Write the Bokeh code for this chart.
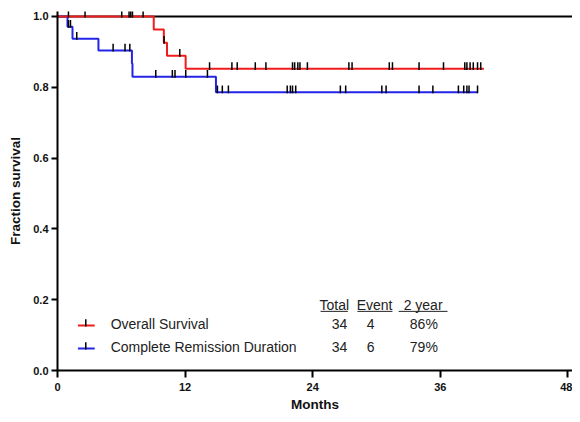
import numpy as np
from bokeh.plotting import figure
from bokeh.models import Range1d, FixedTicker, PrintfTickFormatter, Label
from bokeh.embed import file_html
from bokeh.resources import INLINE

# ---- data ----
os_times = [0, 9.05, 10.0, 10.3, 12.05, 40.1]
os_surv = [1.0, 0.963, 0.926, 0.889, 0.852, 0.852]
os_censor = [1.03, 2.59, 6.04, 6.73, 6.89, 7.05, 8.05, 10.02, 11.5, 14.3, 16.4, 16.9,
             18.6, 19.6, 22.1, 22.3, 22.6, 22.8, 23.5, 27.4, 27.7, 31.2, 31.5, 34.0,
             36.3, 38.3, 38.5, 38.8, 39.1, 39.5, 39.8]

cr_times = [0, 0.94, 1.41, 3.85, 7.0, 7.05, 14.9, 39.5]
cr_surv = [1.0, 0.971, 0.937, 0.904, 0.867, 0.830, 0.786, 0.786]
cr_censor = [1.03, 1.22, 1.81, 5.23, 6.35, 6.8, 9.24, 10.8, 11.05, 12.06, 14.1, 15.04,
             15.5, 16.07, 21.6, 21.9, 22.1, 22.4, 26.6, 27.1, 30.5, 30.9, 34.0, 35.3,
             37.7, 38.2, 38.5, 38.7, 39.5]

ref_x = [0, 49.2]
ref_y = [1.0, 1.0]

x_ticks = [0, 12, 24, 36, 48]
y_ticks = [0.0, 0.2, 0.4, 0.6, 0.8, 1.0]

series_names = ["Overall Survival", "Complete Remission Duration"]
totals = ["34", "34"]
events = ["4", "6"]
two_year = ["86%", "79%"]
headers = ["Total", "Event", "2 year"]

RED = "#f01c1c"
BLUE = "#2424e8"
FONT = "Liberation Sans"


def level_at(times, surv, t):
    idx = np.searchsorted(np.array(times), np.array(t), side="right") - 1
    return np.array(surv)[idx]


p = figure(width=572, height=414, output_backend="svg", toolbar_location=None,
           x_range=Range1d(0, 48.43), y_range=Range1d(0, 1.014),
           min_border_left=57, min_border_right=0, min_border_top=11, min_border_bottom=44)
p.outline_line_color = None
p.xgrid.visible = False
p.ygrid.visible = False
p.background_fill_color = "white"

# reference line at 1.0
p.line(ref_x, ref_y, line_color="black", line_width=2)

# KM curves
p.step(cr_times, cr_surv, mode="after", line_color=BLUE, line_width=2)
p.step(os_times, os_surv, mode="after", line_color=RED, line_width=2)

# censor ticks
for times, surv, cens in [(os_times, os_surv, os_censor), (cr_times, cr_surv, cr_censor)]:
    lv = level_at(times, surv, cens)
    p.segment(x0=cens, y0=lv - 0.003, x1=cens, y1=lv + 0.019, line_color="black", line_width=1.5)

# axes
for ax in (p.xaxis[0], p.yaxis[0]):
    ax.axis_line_width = 2
    ax.major_tick_line_width = 2
    ax.minor_tick_line_color = None
    ax.major_tick_in = 0
    ax.major_label_text_font = FONT
    ax.major_label_text_font_style = "bold"
    ax.major_label_text_font_size = "11px"
    ax.major_label_text_color = "#111111"
    ax.axis_label_text_font = FONT
    ax.axis_label_text_font_style = "bold"
    ax.axis_label_text_color = "#111111"

p.xaxis.ticker = FixedTicker(ticks=x_ticks)
p.xaxis.major_tick_out = 7
p.xaxis.major_label_standoff = 5
p.xaxis.axis_label = "Months"
p.xaxis.axis_label_text_font_size = "13.5px"
p.xaxis.axis_label_standoff = 3

p.yaxis.ticker = FixedTicker(ticks=y_ticks)
p.yaxis.formatter = PrintfTickFormatter(format="%.1f")
p.yaxis.major_tick_out = 6
p.yaxis.major_label_standoff = 3
p.yaxis.axis_label = "Fraction survival"
p.yaxis.axis_label_text_font_size = "13.5px"
p.yaxis.axis_label_standoff = 7

# legend table
header_x = [26.03, 29.82, 34.38]
underline_x0 = [24.74, 28.2, 32.08]
underline_x1 = [27.31, 31.5, 36.68]
header_y = 0.186
for hx, h in zip(header_x, headers):
    p.add_layout(Label(x=hx, y=header_y, text=h, text_align="center", text_baseline="middle",
                       text_font=FONT, text_font_size="14px", text_color="#222222"))
p.segment(x0=underline_x0, y0=[0.167] * 3, x1=underline_x1, y1=[0.167] * 3,
          line_color="#222222", line_width=1)

row_y = [0.131, 0.066]
colors = [RED, BLUE]
for ry, name, col, tot, ev, ty in zip(row_y, series_names, colors, totals, events, two_year):
    p.segment(x0=[1.92], y0=[ry - 0.004], x1=[3.5], y1=[ry - 0.004], line_color=col, line_width=2)
    p.segment(x0=[2.66], y0=[ry - 0.007], x1=[2.66], y1=[ry + 0.014], line_color="black", line_width=1.5)
    p.add_layout(Label(x=5.0, y=ry, text=name, text_align="left", text_baseline="middle",
                       text_font=FONT, text_font_size="14px", text_color="#222222"))
    for cx, t in zip([26.53, 29.45, 34.45], [tot, ev, ty]):
        p.add_layout(Label(x=cx, y=ry, text=t, text_align="center", text_baseline="middle",
                           text_font=FONT, text_font_size="14px", text_color="#222222"))

open("out.html", "w").write(file_html(p, INLINE))
